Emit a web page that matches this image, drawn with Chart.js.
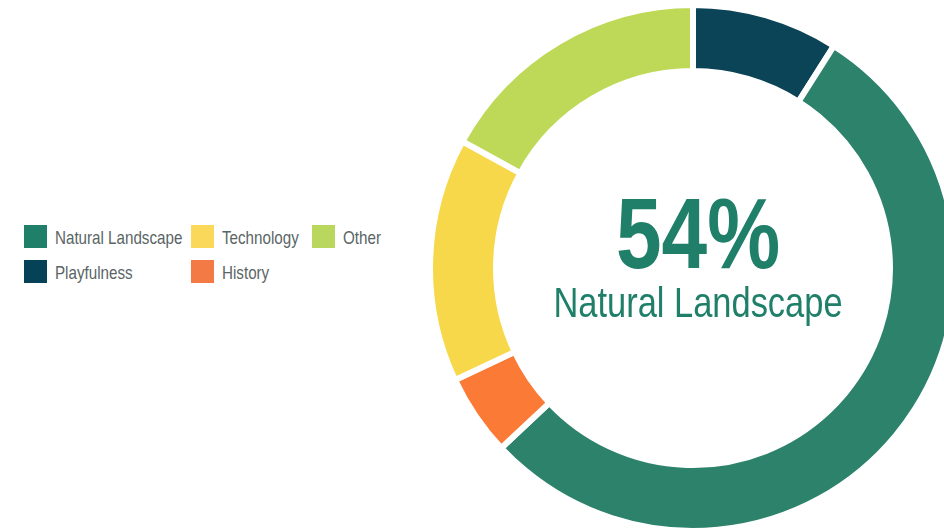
<!DOCTYPE html>
<html>
<head>
<meta charset="utf-8">
<script src="https://cdn.jsdelivr.net/npm/chart.js@4"></script>
<style>
  html, body { margin: 0; padding: 0; width: 944px; height: 529px; overflow: hidden; background: #ffffff; }
  #wrap { position: absolute; left: 427px; top: 2px; width: 532px; height: 532px; }
  #legend { position: absolute; left: 24px; top: 225px; font-family: 'Liberation Sans', Arial, sans-serif; font-size: 18.5px; color: #5a6566; }
  .row { position: relative; height: 35px; }
  .item { position: absolute; top: 0; display: flex; align-items: center; height: 23px; white-space: nowrap; }
  .box { width: 23px; height: 23px; margin-right: 8px; flex: none; }
  .txt { display: inline-block; transform: scaleX(0.82); transform-origin: 0 50%; position: relative; top: 1px; }
</style>
</head>
<body>
<div id="legend"></div>
<div id="wrap"><canvas id="c" width="532" height="532"></canvas></div>
<script>
// Data (clockwise from 12 o'clock)
const labels = ['Playfulness', 'Natural Landscape', 'History', 'Technology', 'Other'];
const values = [9, 54, 5, 15, 17];
const legendRows = [['Natural Landscape', 'Technology', 'Other'], ['Playfulness', 'History']];
const highlight = 'Natural Landscape';

const colorMap = {
  'Playfulness': '#0b4357',
  'Natural Landscape': '#2c826a',
  'History': '#fb7a35',
  'Technology': '#f7d84a',
  'Other': '#bed957'
};
const legendColMap = {
  'Playfulness': '#064257',
  'Natural Landscape': '#1f7f69',
  'History': '#f47a45',
  'Technology': '#fad95a',
  'Other': '#b9d75c'
};
const colLeft = [0, 167, 288];

// HTML legend
const legendEl = document.getElementById('legend');
legendRows.forEach(row => {
  const r = document.createElement('div');
  r.className = 'row';
  row.forEach((name, i) => {
    const it = document.createElement('div');
    it.className = 'item';
    it.style.left = colLeft[i] + 'px';
    const b = document.createElement('span');
    b.className = 'box';
    b.style.background = legendColMap[name];
    const t = document.createElement('span');
    t.className = 'txt';
    t.textContent = name;
    it.appendChild(b); it.appendChild(t);
    r.appendChild(it);
  });
  legendEl.appendChild(r);
});

const centerText = {
  id: 'centerText',
  afterDatasetsDraw(chart) {
    const meta = chart.getDatasetMeta(0);
    const arc = meta.data[0];
    const cx = arc.x + 5, cy = arc.y;
    const idx = chart.data.labels.indexOf(highlight);
    const data = chart.data.datasets[0].data;
    const total = data.reduce((a, b) => a + b, 0);
    const pct = Math.round(data[idx] / total * 100) + '%';
    const ctx = chart.ctx;
    ctx.save();
    ctx.translate(cx, cy);
    ctx.scale(0.82, 1);
    ctx.fillStyle = '#1f7f69';
    ctx.textAlign = 'center';
    ctx.textBaseline = 'alphabetic';
    ctx.font = "bold 100px 'Liberation Sans', Arial, sans-serif";
    ctx.fillText(pct, 0, 0);
    ctx.font = "42px 'Liberation Sans', Arial, sans-serif";
    ctx.fillText(highlight, 0, 49);
    ctx.restore();
  }
};

new Chart(document.getElementById('c'), {
  type: 'doughnut',
  data: {
    labels: labels,
    datasets: [{
      data: values,
      backgroundColor: labels.map(l => colorMap[l]),
      borderColor: '#ffffff',
      borderWidth: 6,
      hoverOffset: 0
    }]
  },
  options: {
    responsive: false,
    animation: false,
    cutout: '74.9%',
    layout: { padding: 0 },
    plugins: {
      legend: { display: false },
      tooltip: { enabled: false }
    }
  },
  plugins: [centerText]
});
</script>
</body>
</html>
